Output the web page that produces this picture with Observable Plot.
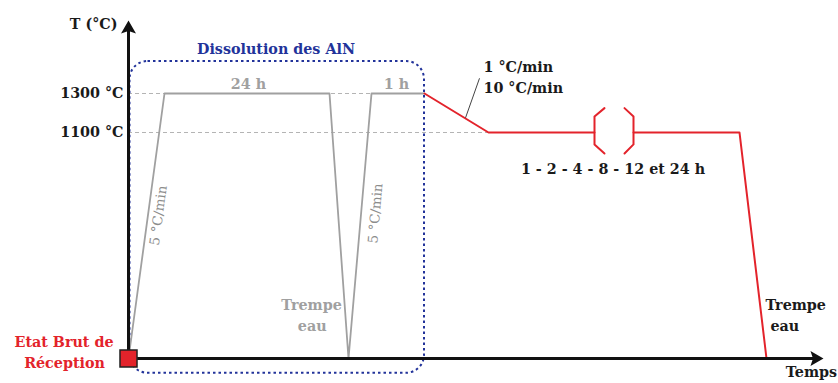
<!DOCTYPE html>
<html><head><meta charset="utf-8">
<script src="https://cdn.jsdelivr.net/npm/d3@7"></script>
<script src="https://cdn.jsdelivr.net/npm/@observablehq/plot@0.6"></script>
<style>body{margin:0;background:#fff} svg{overflow:visible;background:#fff}</style>
</head><body><div id="chart"></div>
<script>
// Schematic time (arbitrary units) and temperature (°C)
const dissolTime = [0, 36, 201, 220, 243, 296];
const dissolTemp = [0, 1300, 1300, 0, 1300, 1300];

const agingTime = [296, 360, 466, 505, 611, 638];
const agingTemp = [1300, 1100, 1100, 1100, 1100, 0];
const agingSeg  = ["a", "a", "a", "b", "b", "b"];

const breakTime = [476, 466, 466, 476, 496, 505, 505, 496];
const breakTemp = [1225, 1182, 1042, 998, 1225, 1182, 1042, 998];
const breakSide = ["L", "L", "L", "L", "R", "R", "R", "R"];

const refTemps = [1300, 1100];
const refEnd   = [296, 360];
const yTicks   = [1100, 1300];

const boxTime = [1.5, 296];
const boxTemp = [-72, 1464];

const leaderTime = [337, 351];
const leaderTemp = [1175, 1378];

const axisTopTemp = 1638;
const axisEndTime = 688;

// Text labels
const tAxisLabel = ["T (°C)"]; const tAxisX = [-11]; const tAxisT = [1654];
const rateTexts = ["1 °C/min", "10 °C/min"]; const rateTextX = [355, 355]; const rateTextT = [1433, 1326];
const durations = ["1 - 2 - 4 - 8 - 12 et 24 h"]; const durX = [484.5]; const durT = [920];
const timeLabel = ["Temps"]; const timeX = [683]; const timeT = [-69];

const quenchLabels = ["Trempe", "eau"];
const quenchX = [637, 642];
const quenchT = [256, 155];

const grayLabels = ["24 h", "1 h", "Trempe", "eau"];
const grayX = [120, 268, 183, 183.7];
const grayT = [1346, 1346, 256, 155];

const rateLabels = ["5 °C/min", "5 °C/min"];
const rateX = [30, 247];
const rateT = [696, 706];
const rateAngle = [-82.3, -85];

const redLabels = ["Etat Brut de", "Réception"];
const redX = [-64.5, -64];
const redT = [77, -25];

const boxTitle = ["Dissolution des AlN"];
const boxTitleX = [147.5];
const boxTitleT = [1526];

const zip = (...cols) => cols[0].map((_, i) => cols.map(c => c[i]));

const dissol = zip(dissolTime, dissolTemp).map(([t, T]) => ({t, T}));
const aging = zip(agingTime, agingTemp, agingSeg).map(([t, T, s]) => ({t, T, s}));
const brk = zip(breakTime, breakTemp, breakSide).map(([t, T, s]) => ({t, T, s}));
const refs = zip(refTemps, refEnd).map(([T, e]) => ({T, e}));

const FONT = "DejaVu Serif";
const FS = 14.3;
const RED = "#e3232b";
const GRAY = "#a0a0a0";
const NAVY = "#22339a";
const DARK = "#1a1a1a";

// stealth-like arrowhead symbol pointing up
const arrowHead = {
  draw(ctx, size) {
    const s = Math.sqrt(size / Math.PI);
    ctx.moveTo(0, -s);
    ctx.lineTo(1.07 * s, 0.86 * s);
    ctx.lineTo(0, 0.5 * s);
    ctx.lineTo(-1.07 * s, 0.86 * s);
    ctx.closePath();
  }
};

const txt = (labels, xs, ts, opts) => Plot.text(labels.map((l, i) => ({l, t: xs[i], T: ts[i]})), {
  x: "t", y: "T", text: "l", fontFamily: FONT, fontWeight: "bold", fontSize: FS, ...opts
});

const chart = Plot.plot({
  width: 838,
  height: 383,
  marginLeft: 128,
  marginRight: 15,
  marginTop: 20,
  marginBottom: 25,
  style: {background: "#fff", overflow: "visible"},
  x: {type: "linear", domain: [0, 695], axis: null},
  y: {type: "linear", domain: [0, 1100, 1300, 1674], range: [358, 132, 93, 20], axis: null},
  marks: [
    Plot.ruleY(refs, {y: "T", x1: 0, x2: "e", stroke: "#b4b4b4", strokeWidth: 1, strokeDasharray: "4,3"}),
    Plot.rect([0], {x1: boxTime[0], x2: boxTime[1], y1: boxTemp[0], y2: boxTemp[1], rx: 18,
      fill: "none", stroke: NAVY, strokeWidth: 2, strokeDasharray: "2.5,3"}),
    Plot.line(dissol, {x: "t", y: "T", stroke: GRAY, strokeWidth: 1.8}),
    Plot.line(aging, {x: "t", y: "T", z: "s", stroke: RED, strokeWidth: 2}),
    Plot.line(brk, {x: "t", y: "T", z: "s", stroke: RED, strokeWidth: 2}),
    Plot.link([0], {x1: leaderTime[0], y1: leaderTemp[0], x2: leaderTime[1], y2: leaderTemp[1], stroke: "#444", strokeWidth: 1}),
    Plot.axisY(yTicks, {anchor: "left", label: null, tickSize: 0, tickPadding: 5, tickFormat: d => `${d} °C`,
      fontFamily: FONT, fontWeight: "bold", fontSize: FS, color: DARK}),
    Plot.ruleX([0], {y1: 0, y2: axisTopTemp, stroke: "#111", strokeWidth: 3}),
    Plot.ruleY([0], {x1: 0, x2: axisEndTime, stroke: "#111", strokeWidth: 3}),
    Plot.dot([0], {x: 0, y: axisTopTemp, symbol: arrowHead, r: 7, fill: "#111", stroke: "none"}),
    Plot.dot([0], {x: axisEndTime, y: 0, symbol: arrowHead, r: 7, rotate: 90, fill: "#111", stroke: "none"}),
    Plot.dot([0], {x: 0, y: 0, symbol: "square", r: 9.6, fill: RED, stroke: "#222", strokeWidth: 1.5}),
    txt(tAxisLabel, tAxisX, tAxisT, {textAnchor: "end", fill: DARK}),
    txt(rateTexts, rateTextX, rateTextT, {textAnchor: "start", fill: DARK}),
    txt(durations, durX, durT, {textAnchor: "middle", fill: DARK}),
    txt(timeLabel, timeX, timeT, {textAnchor: "middle", fill: DARK}),
    txt(quenchLabels, quenchX, quenchT, {textAnchor: "start", fill: DARK}),
    txt(grayLabels, grayX, grayT, {textAnchor: "middle", fill: GRAY}),
    Plot.text(rateLabels.map((l, i) => ({l, t: rateX[i], T: rateT[i], a: rateAngle[i]})), {
      x: "t", y: "T", text: "l", rotate: "a", fontFamily: FONT, fontWeight: "normal", fontSize: 13.5, fill: "#8c8c8c"}),
    txt(redLabels, redX, redT, {textAnchor: "middle", fill: RED}),
    txt(boxTitle, boxTitleX, boxTitleT, {textAnchor: "middle", fill: NAVY})
  ]
});
document.getElementById("chart").append(chart);
</script>
</body></html>
